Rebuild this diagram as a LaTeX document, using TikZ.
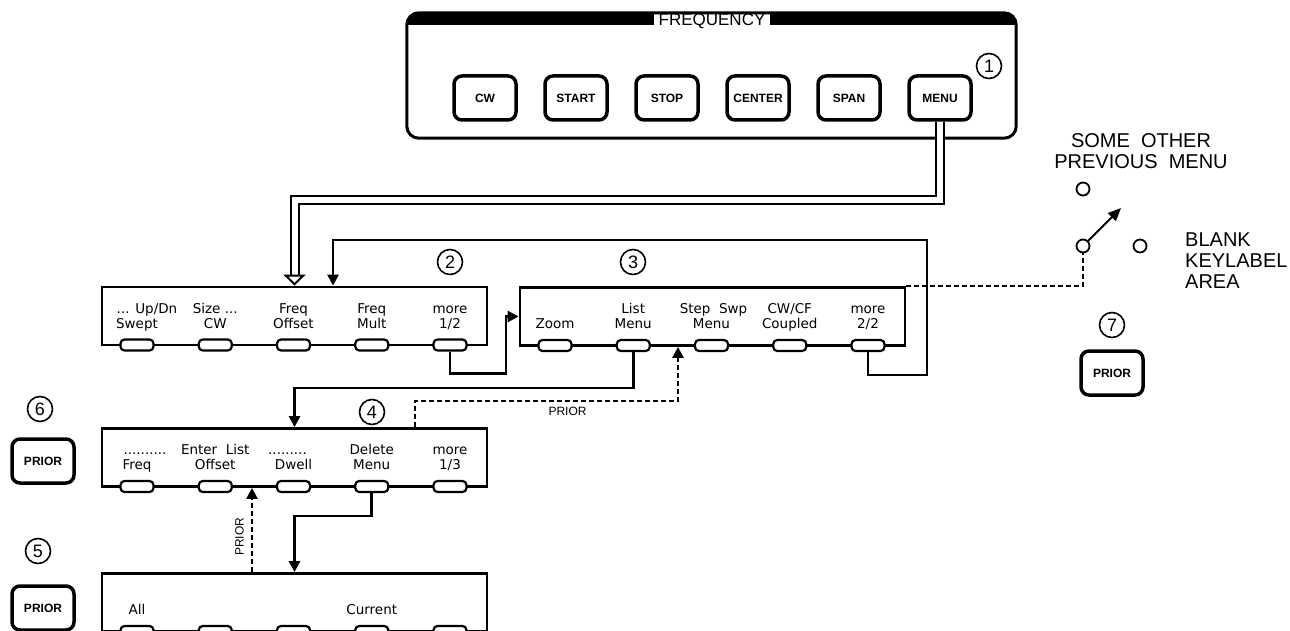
\documentclass[tikz,border=0pt]{standalone}
\usepackage{fontspec}
\setmainfont{Liberation Sans}
\newfontfamily\keyfont{DejaVu Sans}
\usetikzlibrary{arrows.meta,positioning,calc}

\tikzset{
  menubox/.style={draw, line width=2.8pt, minimum width=385pt, minimum height=58pt, inner sep=0pt},
  softkey/.style={draw, fill=white, line width=2.2pt, rounded corners=4pt,
                  minimum width=33pt, minimum height=11pt, inner sep=0pt},
  keyrow/.style={anchor=base, inner sep=0pt, font=\keyfont\fontsize{13.5}{15}\selectfont},
  hardkey/.style={draw, line width=3.5pt, rounded corners=8pt, minimum width=62pt,
                  minimum height=44pt, inner sep=0pt, font=\bfseries\fontsize{12}{12}\selectfont},
  num/.style={draw, circle, line width=1.6pt, minimum size=25pt, inner sep=0pt,
              font=\fontsize{18}{18}\selectfont},
  conn/.style={line width=2.6pt, -{Triangle[length=11pt,width=11pt]}},
  prior/.style={conn, dash pattern=on 5pt off 3pt},
  priorlbl/.style={inner sep=0pt, font=\fontsize{12}{12}\selectfont},
  swpt/.style={draw, circle, line width=1.8pt, minimum size=13pt, inner sep=0pt},
  bigtext/.style={inner sep=0pt, font=\fontsize{20}{21}\selectfont}
}

% two label rows above the softkeys of one menu
\newcommand\keylabels[2]{%
  \foreach \k/\dx/\rowa/\rowb in {#2}{%
    \node[keyrow] (#1-b\k) at ($(#1-k\k.north)+(0,-10)$) {\rowb};
    \node[keyrow] (#1-a\k) at ($(#1-k\k.north)+(\dx,-25)$) {\rowa};
  }}

\begin{document}
\begin{tikzpicture}[x=1pt, y=-1pt]
\useasboundingbox (0,0) rectangle (1290,631);
\clip (0,0) rectangle (1290,631);

% frequency panel
\node[minimum width=609pt, minimum height=125pt, inner sep=0pt] (freq) at (711.5,75.5) {};
\begin{scope}
  \clip[rounded corners=12pt] (freq.south west) rectangle (freq.north east);
  \fill (freq.north west) rectangle ([yshift=-12pt]freq.north east);
\end{scope}
\node[fill=white, inner xsep=5pt, inner ysep=1pt, font=\fontsize{17}{17}\selectfont] (ftitle) at (712,21.5) {FREQUENCY};
\draw[line width=3pt, rounded corners=12pt] (freq.south west) rectangle (freq.north east);
\foreach \name/\lbl [count=\i from 0] in {bcw/CW, bstart/START, bstop/STOP, bcenter/CENTER, bspan/SPAN, bmenu/MENU}
  \node[hardkey] (\name) at ({485+91*\i},98) {\lbl};
\node[num] (n1) at (989,66) {1};

% menus
\node[menubox] (m2) at (294.5,316) {};
\node[menubox] (m3) at (712.5,316.5) {};
\node[menubox] (m4) at (294.5,457.5) {};
\node[menubox] (m5) at (294.5,602.5) {};
\foreach \m in {m2,m3,m4,m5}
  \foreach \i in {1,...,5}
    \node[softkey] (\m-k\i) at ($(\m.center)+({-157.5+78.25*(\i-1)},29)$) {};

\keylabels{m2}{1/10/{... Up/Dn}/Swept, 2/0/{Size ...}/CW, 3/0/Freq/Offset, 4/0/Freq/Mult, 5/0/more/{1/2}}
\keylabels{m3}{1/0/{}/Zoom, 2/0/List/Menu, 3/2/{Step~~Swp}/Menu, 4/0/{CW/CF}/Coupled, 5/0/more/{2/2}}
\keylabels{m4}{1/8/{..........}/Freq, 2/0/{Enter~~List}/Offset, 3/-6/{.........}/Dwell, 4/0/Delete/Menu, 5/0/more/{1/3}}
\keylabels{m5}{1/0/{}/All, 4/0/{}/Current}

\node[num] (n2) at (450,262) {2};
\node[num] (n3) at (633,262) {3};
\node[num] (n4) at (372,412) {4};
\node[num] (n5) at (38,551) {5};
\node[num] (n6) at (40,409) {6};
\node[num] (n7) at (1112,325) {7};

\node[hardkey] (prior6) at (43,461) {PRIOR};
\node[hardkey] (prior5) at (43,608) {PRIOR};
\node[hardkey] (prior7) at (1112,373) {PRIOR};

% MENU key into first menu
\coordinate (hollowtop) at ([yshift=11pt]m2.north);
\draw[line width=2pt, double=white, double distance=6pt] (bmenu.south) |- ([yshift=75pt]hollowtop) -- (hollowtop);
\draw[line width=2pt, -{Triangle[length=11pt,width=22pt,fill=white]}] (hollowtop) -- (m2.north);

% menu connectors
\draw[conn] (m3-k5.south) -- ++(0,23) -- ++(59,0) -- ++(0,-135) -| ([xshift=38.5pt]m2.north);
\draw[conn] (m2-k5.south) -- ++(0,22) -- ++(56,0) |- (m3.west);
\draw[conn] (m3-k2.south) -- ++(0,36) -| (m4.north);
\draw[conn] (m4-k4.south) -- ++(0,23) -| (m5.north);
\draw[prior] ([xshift=120.5pt]m4.north) -- ++(0,-26)
  -- node[priorlbl, pos=0.58, below=5pt] (plbl1) {PRIOR} ++(263,0) -- ([xshift=-34.5pt]m3.south);
\draw[prior] ([xshift=-42.5pt]m5.north)
  -- node[priorlbl, pos=0.42, rotate=90, anchor=south, inner ysep=7pt] (plbl2) {PRIOR} ([xshift=-42.5pt]m4.south);

% prior switch
\node[bigtext, align=center] (prevtxt) at (1141,151) {SOME~~OTHER\\PREVIOUS~~MENU};
\node[bigtext, align=left, anchor=west] (blanktxt) at (1185,261) {BLANK\\KEYLABEL\\AREA};
\node[swpt] (swprev) at (1083,189) {};
\node[swpt] (swpivot) at (1083,246) {};
\node[swpt] (swblank) at (1140,246) {};
\coordinate (swtip) at (1121,208);
\draw[line width=2pt, -{Triangle[length=13pt,width=11pt]}] (swpivot) -- (swtip);
\draw[line width=2.6pt, dash pattern=on 5pt off 3pt] (m3.north east) -| (swpivot);
\end{tikzpicture}
\end{document}
